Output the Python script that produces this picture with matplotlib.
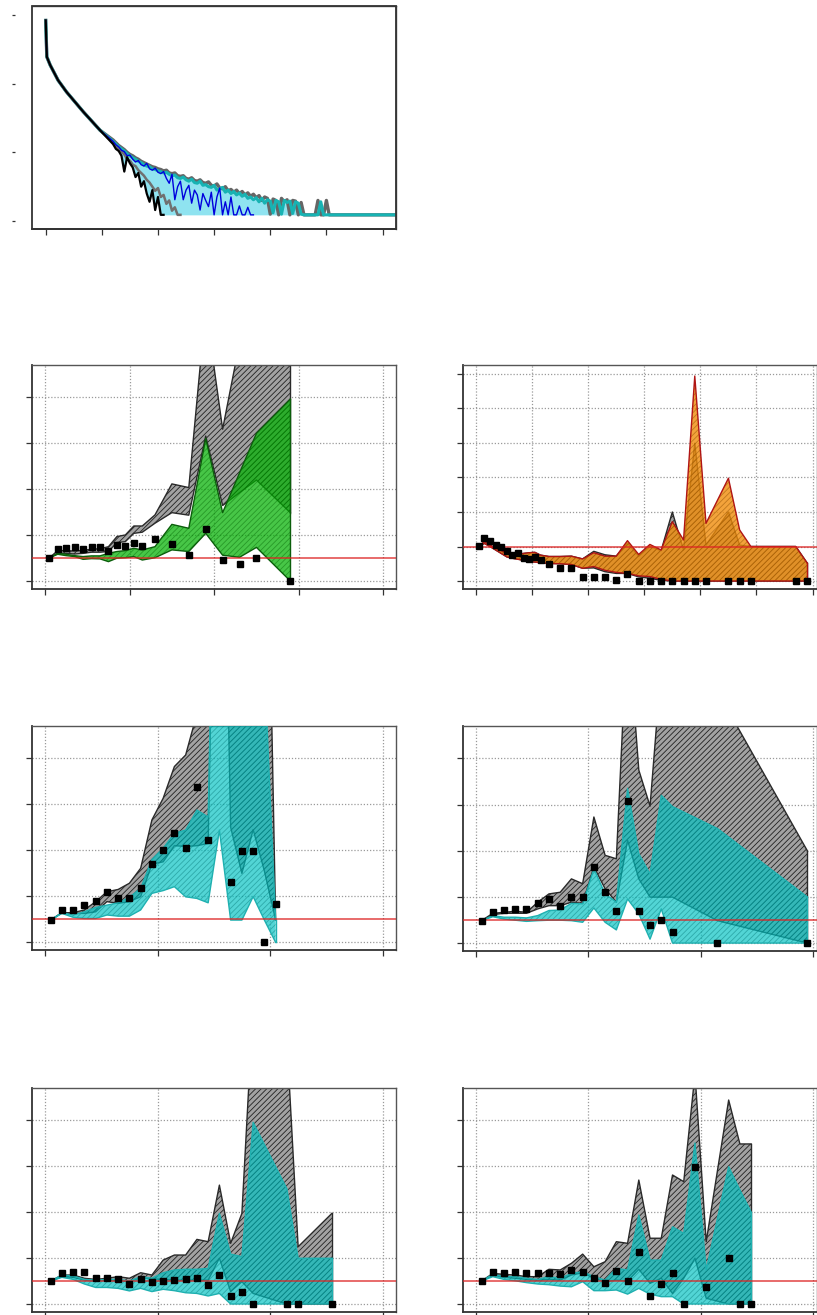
import numpy as np
import matplotlib.pyplot as plt
from matplotlib.patches import Rectangle

plt.rcParams['hatch.linewidth'] = 0.6

# ---------------- panel 1: decay curves (log-scale values) ----------------
p1_floor = 0.09
p1_x_head = [0.0, 0.02, 0.08, 0.22, 0.37, 0.67, 0.97]
p1_v_head = [2.92, 2.39, 2.27, 2.05, 1.88, 1.59, 1.32]
p1_x_tail = np.round(np.arange(1.2, 5.101, 0.05), 2)
p1_x_end = 6.25

p1_grey = [1.18, 1.14, 1.10, 1.07, 1.04, 1.00, 0.97, 0.95, 0.92, 0.90, 0.87, 0.85, 0.83, 0.81, 0.79, 0.78, 0.76,
           0.75, 0.73, 0.74, 0.70, 0.69, 0.70, 0.66, 0.65, 0.66, 0.62, 0.61, 0.63, 0.59, 0.58, 0.60, 0.56,
           0.55, 0.57, 0.52, 0.51, 0.54, 0.48, 0.47, 0.50, 0.44, 0.46, 0.42, 0.45, 0.40, 0.43, 0.38, 0.41,
           0.36, 0.39, 0.34, 0.37, 0.30, 0.35, 0.33, 0.10, 0.32, 0.30, 0.09, 0.33, 0.28, 0.31, 0.09, 0.30,
           0.29, 0.09, 0.27, 0.09, 0.09, 0.09, 0.09, 0.09, 0.30, 0.09, 0.09, 0.30, 0.09, 0.09]
p1_teal = [1.16, 1.12, 1.08, 1.05, 1.02, 0.98, 0.95, 0.92, 0.90, 0.87, 0.85, 0.82, 0.80, 0.79, 0.76, 0.75, 0.73,
           0.72, 0.70, 0.71, 0.68, 0.66, 0.67, 0.63, 0.62, 0.64, 0.60, 0.58, 0.61, 0.56, 0.55, 0.58, 0.52,
           0.53, 0.50, 0.49, 0.52, 0.45, 0.47, 0.49, 0.42, 0.45, 0.40, 0.43, 0.38, 0.41, 0.36, 0.39, 0.33,
           0.35, 0.31, 0.34, 0.28, 0.33, 0.26, 0.31, 0.29, 0.12, 0.30, 0.28, 0.10, 0.30, 0.27, 0.29, 0.11,
           0.28, 0.26, 0.10, 0.09, 0.09, 0.09, 0.09, 0.09, 0.09, 0.28, 0.09, 0.09, 0.09, 0.09]
p1_blue = [1.16, 1.11, 1.08, 1.03, 1.01, 0.95, 0.96, 0.90, 0.86, 0.88, 0.82, 0.80, 0.84, 0.76, 0.74, 0.77, 0.71,
           0.69, 0.72, 0.62, 0.55, 0.68, 0.31, 0.50, 0.58, 0.31, 0.45, 0.52, 0.26, 0.45, 0.38, 0.16, 0.40,
           0.30, 0.21, 0.42, 0.09, 0.35, 0.48, 0.09, 0.28, 0.09, 0.35, 0.09, 0.09, 0.22, 0.09, 0.09, 0.20,
           0.09, 0.09]
p1_grey2 = [1.14, 1.09, 1.05, 1.01, 0.97, 0.90, 0.88, 0.82, 0.80, 0.74, 0.70, 0.66, 0.60, 0.56, 0.50, 0.44,
            0.48, 0.35, 0.38, 0.25, 0.30, 0.15, 0.20, 0.09, 0.09]
p1_black = [1.12, 1.05, 1.02, 0.95, 0.72, 0.93, 0.84, 0.78, 0.64, 0.70, 0.50, 0.58, 0.40, 0.28, 0.45, 0.16,
            0.35, 0.09, 0.09]

# ---------------- panel 2 left: green ----------------
g_x = [0.05, 0.15, 0.25, 0.35, 0.45, 0.55, 0.65, 0.75, 0.85, 0.95, 1.05, 1.15, 1.3, 1.5, 1.7, 1.9, 2.1, 2.3, 2.5, 2.9]
g_pts = [0.99, 1.38, 1.42, 1.46, 1.38, 1.46, 1.46, 1.29, 1.55, 1.51, 1.64, 1.51, 1.81, 1.59, 1.12, 2.25, 0.90, 0.72, 0.99, 0.0]
g_grey_hi = [1.0, 1.32, 1.32, 1.30, 1.33, 1.38, 1.40, 1.49, 1.93, 2.0, 2.39, 2.39, 2.87, 4.22, 4.06, 11.9, 6.6, 10.35, 12, 12]
g_grey_lo = [1.0, 1.2, 1.2, 1.17, 1.2, 1.25, 1.25, 1.28, 1.67, 1.71, 2.07, 2.12, 2.51, 2.97, 2.86, 6.3, 3.28, 3.84, 4.39, 2.97]
g_hi = [1.0, 1.2, 1.16, 1.1, 1.06, 1.09, 1.09, 1.2, 1.28, 1.32, 1.42, 1.35, 1.49, 2.46, 2.29, 6.2, 2.97, 4.7, 6.42, 7.9]
g_lo = [1.0, 1.16, 1.1, 1.06, 0.94, 0.97, 0.96, 0.84, 0.99, 1.01, 1.06, 0.91, 1.01, 1.35, 1.28, 2.07, 1.12, 1.03, 1.46, 0.0]

# ---------------- panel 2 right: orange ----------------
o_x = [0.05, 0.15, 0.25, 0.35, 0.45, 0.55, 0.65, 0.75, 0.85, 0.95, 1.05, 1.15,
       1.3, 1.5, 1.7, 1.9, 2.1, 2.3, 2.5, 2.7, 2.9, 3.1, 3.3, 3.5, 3.7, 3.9, 4.1,
       4.5, 4.7, 4.9, 5.7, 5.9]
o_pts = [1.01, 1.24, 1.15, 1.04, 0.98, 0.86, 0.74, 0.81, 0.68, 0.63, 0.69, 0.60,
         0.48, 0.37, 0.37, 0.11, 0.11, 0.11, 0.02, 0.20, 0, 0, 0, 0, 0, 0, 0,
         0, 0, 0, 0, 0]
o_hi = [1.01, 1.14, 1.04, 0.95, 0.88, 0.80, 0.76, 0.77, 0.80, 0.82, 0.83, 0.75,
        0.71, 0.71, 0.72, 0.64, 0.82, 0.72, 0.72, 1.17, 0.77, 1.06, 0.90, 1.72, 1.19, 5.94, 1.67,
        2.98, 1.48, 1.0, 1.0, 0.53]
o_lo = [1.01, 1.09, 1.0, 0.90, 0.80, 0.70, 0.66, 0.63, 0.60, 0.56, 0.55, 0.53,
        0.51, 0.50, 0.48, 0.37, 0.42, 0.31, 0.25, 0.22, 0.15, 0.13, 0.05, 0, 0, 0, 0,
        0, 0, 0, 0, 0]
o_grey_hi = [1.01, 1.14, 1.04, 0.95, 0.88, 0.81, 0.78, 0.78, 0.80, 0.82, 0.83, 0.75,
             0.71, 0.71, 0.72, 0.64, 0.86, 0.76, 0.72, 1.10, 0.72, 1.0, 0.88, 2.0, 0.9, 3.99, 1.04,
             2.0, 1.04, 1.0, 1.0, 0.53]
o_grey_lo = [1.01, 1.09, 1.0, 0.90, 0.80, 0.70, 0.66, 0.63, 0.60, 0.56, 0.55, 0.53,
             0.51, 0.50, 0.48, 0.37, 0.38, 0.27, 0.22, 0.22, 0.12, 0.08, 0.02, 0, 0, 0, 0,
             0, 0, 0, 0, 0]

# ---------------- panel 3 left: teal ----------------
t3l_x = [0.05, 0.15, 0.25, 0.35, 0.45, 0.55, 0.65, 0.75, 0.85, 0.95, 1.05, 1.15, 1.25, 1.35, 1.45,
         1.55, 1.65, 1.75, 1.85, 1.95, 2.05]
t3l_pts = [0.97, 1.39, 1.39, 1.61, 1.78, 2.17, 1.91, 1.91, 2.35, 3.39, 4.0, 4.74, 4.10, 6.74, 4.45,
           np.nan, 2.61, 3.96, 3.96, 0.0, 1.65]
t3l_grey_hi = [0.97, 1.29, 1.29, 1.41, 1.77, 2.2, 2.3, 2.57, 3.22, 5.32, 6.26, 7.64, 8.14, 9.93, 12,
               12, 12, 12, 12, 26, 0.97]
t3l_grey_lo = [0.97, 1.29, 1.26, 1.26, 1.33, 1.77, 1.70, 1.77, 1.99, 3.4, 3.5, 4.2, 4.17, 4.2, 4.3,
               30, 5.0, 3.0, 4.9, 3.1, 0.97]
t3l_hi = [0.97, 1.29, 1.19, 1.33, 1.52, 1.62, 1.72, 1.96, 2.35, 3.6, 4.09, 4.74, 4.88, 5.75, 5.45,
          30, 12, 12, 12, 12, 0.97]
t3l_lo = [0.97, 1.26, 1.09, 1.04, 1.04, 1.19, 1.14, 1.14, 1.41, 2.13, 2.25, 2.42, 1.98, 1.91, 1.72,
          4.88, 0.97, 0.97, 1.99, 0.97, 0.0]

# ---------------- panel 3 right: teal ----------------
t3r_x = [0.05, 0.15, 0.25, 0.35, 0.45, 0.55, 0.65, 0.75, 0.85, 0.95, 1.05, 1.15, 1.25, 1.35, 1.45,
         1.55, 1.65, 1.75, 2.15, 2.95]
t3r_pts = [0.97, 1.35, 1.43, 1.48, 1.48, 1.74, 1.91, 1.61, 2.0, 2.0, 3.28, 2.22, 1.39, 6.17, 1.39,
           0.78, 1.0, 0.48, 0.0, 0.0]
t3r_grey_hi = [0.97, 1.29, 1.33, 1.38, 1.33, 1.77, 2.13, 2.2, 2.78, 2.57, 5.46, 3.8, 3.65, 14, 7.49,
               5.93, 12, 12, 10.9, 4.0]
t3r_grey_lo = [0.97, 1.23, 1.29, 1.29, 1.29, 1.48, 1.62, 1.62, 1.77, 1.72, 3.3, 2.35, 1.77, 4.45, 2.78,
               1.99, 1.99, 1.99, 0.97, 0.0]
t3r_hi = [0.97, 1.19, 1.12, 1.12, 1.09, 1.19, 1.41, 1.43, 1.72, 1.70, 3.22, 2.13, 1.77, 6.7, 3.87,
          2.99, 6.4, 5.91, 4.96, 2.0]
t3r_lo = [0.97, 1.14, 1.04, 0.99, 0.94, 0.97, 0.99, 0.99, 0.97, 0.9, 1.52, 0.9, 0.57, 1.91, 1.26,
          0.17, 1.48, 0, 0, 0]

# ---------------- panel 4 left: teal ----------------
t4l_x = [0.05, 0.15, 0.25, 0.35, 0.45, 0.55, 0.65, 0.75, 0.85, 0.95, 1.05, 1.15, 1.25, 1.35, 1.45,
         1.55, 1.65, 1.75, 1.85, 2.15, 2.25, 2.55]
t4l_pts = [1.0, 1.33, 1.38, 1.38, 1.12, 1.12, 1.09, 0.86, 1.07, 0.94, 0.99, 1.03, 1.07, 1.12, 0.81,
           1.25, 0.33, 0.51, 0.0, 0.0, 0.0, 0.0]
t4l_grey_hi = [1.0, 1.26, 1.26, 1.12, 1.07, 1.12, 1.19, 1.12, 1.36, 1.26, 1.91, 2.13, 2.13, 2.81, 2.71,
               5.17, 2.64, 3.94, 13.0, 11.5, 2.49, 3.94]
t4l_grey_lo = [1.0, 1.19, 1.16, 1.04, 1.0, 1.04, 1.04, 0.97, 1.16, 1.09, 1.07, 1.04, 1.04, 1.04, 1.04,
               1.99, 0.54, 0.97, 0.46, 0, 0, 0]
t4l_hi = [1.0, 1.26, 1.22, 1.07, 1.04, 1.07, 1.07, 1.0, 1.19, 1.12, 1.36, 1.48, 1.51, 1.51, 1.55,
          3.94, 2.17, 2.06, 7.9, 5.01, 1.99, 1.99]
t4l_lo = [1.0, 1.16, 1.07, 0.87, 0.72, 0.72, 0.68, 0.57, 0.68, 0.54, 0.64, 0.58, 0.49, 0.46, 0.35,
          0.46, 0, 0, 0, 0, 0, 0]

# ---------------- panel 4 right: teal ----------------
t4r_x = [0.05, 0.15, 0.25, 0.35, 0.45, 0.55, 0.65, 0.75, 0.85, 0.95, 1.05, 1.15, 1.25, 1.35, 1.45,
         1.55, 1.65, 1.75, 1.85, 1.95, 2.05, 2.25, 2.35, 2.45]
t4r_pts = [1.0, 1.38, 1.33, 1.38, 1.33, 1.33, 1.33, 1.29, 1.46, 1.38, 1.12, 0.90, 1.42, 0.99, 2.25,
           0.33, 0.86, 1.33, 0.0, 5.94, 0.72, 1.99, 0.0, 0.0]
t4r_grey_hi = [1.0, 1.33, 1.29, 1.26, 1.19, 1.19, 1.51, 1.48, 1.77, 2.17, 1.62, 1.84, 2.71, 2.64, 5.39,
               2.86, 2.86, 5.61, 5.32, 10.0, 2.71, 8.87, 6.96, 6.96]
t4r_grey_lo = [1.0, 1.26, 1.16, 1.12, 1.07, 1.04, 1.07, 1.04, 1.26, 1.36, 1.12, 0.97, 1.04, 0.99, 1.51,
               0.9, 1.12, 0.46, 1.12, 1.99, 0.25, 0, 0, 0]
t4r_hi = [1.0, 1.29, 1.19, 1.19, 1.12, 1.07, 1.19, 1.12, 1.33, 1.41, 1.19, 1.04, 1.55, 1.48, 3.87,
          1.91, 1.91, 3.36, 3.07, 7.0, 1.48, 5.97, 4.96, 4.0]
t4r_lo = [1.0, 1.19, 1.07, 1.01, 0.93, 0.87, 0.84, 0.78, 0.75, 0.97, 0.58, 0.58, 0.61, 0.43, 0.68,
          0.43, 0.32, 0.32, 0, 0, 0, 0, 0, 0]


W, H = 817, 1315
fig = plt.figure(figsize=(W / 100, H / 100), dpi=100)


def add_ax(l, t, r, b):
    return fig.add_axes([l / W, 1 - b / H, (r - l) / W, (b - t) / H])


def style(ax, xticks, yticks, xlim, ylim, grid=True):
    ax.set_xlim(xlim)
    ax.set_ylim(ylim)
    ax.set_xticks(xticks)
    ax.set_yticks(yticks)
    ax.tick_params(direction='out', length=4.3, width=0.9, color='#333333',
                   labelbottom=False, labelleft=False)
    for s in ['left', 'bottom']:
        ax.spines[s].set_color('#333333')
        ax.spines[s].set_linewidth(1.3)
    for s in ['top', 'right']:
        ax.spines[s].set_color('#555555')
        ax.spines[s].set_linewidth(1.0)
    if grid:
        ax.grid(True, color='#9a9a9a', linestyle=(0, (1, 1.5)), linewidth=0.9)
        ax.set_axisbelow(True)


def band(ax, x, lo, hi, face, alpha, hatchc, edge, elw=0.9, z=2):
    x = np.asarray(x, float)
    xs = np.concatenate([x, x[::-1]])
    ys = np.concatenate([np.asarray(hi, float), np.asarray(lo, float)[::-1]])
    ax.fill(xs, ys, facecolor=face, alpha=alpha, lw=0, zorder=z)
    ax.fill(xs, ys, facecolor='none', edgecolor=hatchc, hatch='//////', lw=0, zorder=z)
    ax.plot(x, hi, color=edge, lw=elw, zorder=z + 0.1)
    ax.plot(x, lo, color=edge, lw=elw, zorder=z + 0.1)
    ax.plot([x[-1], x[-1]], [lo[-1], hi[-1]], color=edge, lw=elw, zorder=z + 0.1)


def grey_band(ax, x, lo, hi):
    band(ax, x, lo, hi, '#a2a2a2', 1.0, (0.1, 0.1, 0.1, 0.95), '#2a2a2a', elw=1.0, z=2)


def panel(ax, x, pts, glo, ghi, clo, chi, face, hatchc, edge, alpha):
    grey_band(ax, x, glo, ghi)
    band(ax, x, clo, chi, face, alpha, hatchc, edge, elw=1.0, z=3)
    ax.axhline(1.0, color='#dd2222', lw=1.1, alpha=0.85, zorder=4)
    ax.plot(x, pts, 's', color='black', ms=4.3, zorder=5)


# ---- panel 1
ax1 = add_ax(32, 6, 396, 229)
style(ax1, range(7), range(4), (-0.244, 6.24), (-0.116, 3.13), grid=False)
ax1.spines['left'].set_position(('outward', 12.3))
ax1.spines['left'].set_visible(False)
ax1.tick_params(axis='y', length=2.3)
ax1.add_patch(Rectangle((0, 0), 1, 1, transform=ax1.transAxes, fill=False,
                        edgecolor='#333333', lw=1.3, zorder=10, clip_on=False))

x_full = np.concatenate([p1_x_head, p1_x_tail, [p1_x_end]])
grey_full = np.concatenate([p1_v_head, p1_grey, [p1_floor]])
teal_full = np.concatenate([p1_v_head, p1_teal, [p1_floor]])
n_tail = len(p1_x_tail)
low_env = np.full(n_tail, p1_floor)
low_env[:len(p1_black)] = p1_black
low_full = np.concatenate([p1_v_head, low_env, [p1_floor]])
ax1.fill_between(x_full, low_full, teal_full, color='#8fe3f0', lw=0, zorder=1)
ax1.plot(x_full, grey_full, color='#666666', lw=2.4, zorder=2)
ax1.plot(x_full, teal_full, color='#17b3b3', lw=2.2, zorder=3)
ax1.plot(np.concatenate([p1_x_head, p1_x_tail[:len(p1_grey2)]]),
         np.concatenate([p1_v_head, p1_grey2]), color='#707070', lw=1.8, zorder=3)
ax1.plot(np.concatenate([p1_x_head, p1_x_tail[:len(p1_blue)]]),
         np.concatenate([p1_v_head, p1_blue]), color='#0000dd', lw=1.0, zorder=4)
ax1.plot(np.concatenate([p1_x_head, p1_x_tail[:len(p1_black)]]),
         np.concatenate([p1_v_head, p1_black]), color='black', lw=1.6, zorder=5)

green = ('#00b000', (0.0, 0.38, 0.0, 0.45), '#0b5e0b', 0.72)
teal = ('#00c2c2', (0.0, 0.45, 0.45, 0.45), '#1fb0b0', 0.68)
orange = ('#f08c0a', (0.55, 0.3, 0.0, 0.5), '#b01515', 0.8)

# ---- row 2
ax = add_ax(32, 365, 396, 589)
style(ax, range(5), [0, 2, 4, 6, 8], (-0.154, 4.15), (-0.35, 9.39))
panel(ax, g_x, g_pts, g_grey_lo, g_grey_hi, g_lo, g_hi, *green)

ax = add_ax(462.7, 365, 816.5, 589.3)
style(ax, range(7), range(7), (-0.237, 6.07), (-0.24, 6.26))
panel(ax, o_x, o_pts, o_grey_lo, o_grey_hi, o_lo, o_hi, *orange)

# ---- row 3
ax = add_ax(32, 726, 396, 950)
style(ax, range(4), [0, 2, 4, 6, 8], (-0.116, 3.12), (-0.33, 9.4))
panel(ax, t3l_x, t3l_pts, t3l_grey_lo, t3l_grey_hi, t3l_lo, t3l_hi, *teal)

ax = add_ax(462.7, 726, 816.5, 950.7)
style(ax, range(4), [0, 2, 4, 6, 8], (-0.118, 3.032), (-0.33, 9.4))
panel(ax, t3r_x, t3r_pts, t3r_grey_lo, t3r_grey_hi, t3r_lo, t3r_hi, *teal)

# ---- row 4
ax = add_ax(32, 1088.3, 396, 1312.3)
style(ax, range(4), [0, 2, 4, 6, 8], (-0.116, 3.12), (-0.36, 9.38))
panel(ax, t4l_x, t4l_pts, t4l_grey_lo, t4l_grey_hi, t4l_lo, t4l_hi, *teal)

ax = add_ax(462.7, 1088.3, 816.5, 1312.3)
style(ax, range(4), [0, 2, 4, 6, 8], (-0.118, 3.032), (-0.36, 9.38))
panel(ax, t4r_x, t4r_pts, t4r_grey_lo, t4r_grey_hi, t4r_lo, t4r_hi, *teal)

fig.savefig('out.png', dpi=100)
